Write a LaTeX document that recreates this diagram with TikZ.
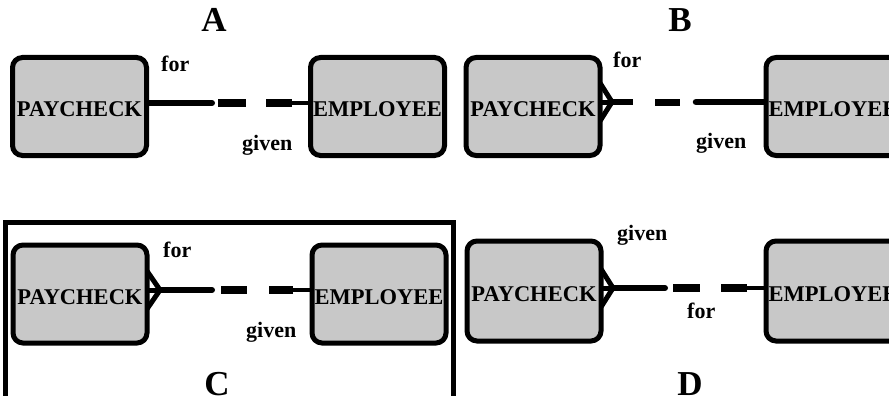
\documentclass[tikz,border=0pt]{standalone}
\usepackage{fontspec}
\setmainfont{Liberation Serif}
\usetikzlibrary{backgrounds}
\definecolor{entfill}{RGB}{200,200,200}
\begin{document}
\begin{tikzpicture}[x=1pt,y=-1pt,
  entity/.style={draw=black, fill=entfill, line width=5pt, rounded corners=10pt,
    minimum width=134pt, minimum height=98pt, inner sep=0pt, outer sep=0pt,
    font=\fontsize{22.5}{22.5}\selectfont\bfseries, text height=20pt, text depth=0pt},
  rolelabel/.style={inner sep=0pt, anchor=base west, font=\fontsize{22}{22}\selectfont\bfseries},
  panellabel/.style={inner sep=0pt, anchor=base, font=\fontsize{35}{35}\selectfont\bfseries},
  mandseg/.style={line width=6pt, line cap=round},
  mandbutt/.style={line width=6.5pt},
  optseg/.style={line width=8pt},
  tailseg/.style={line width=4.5pt},
  crowfoot/.style={line width=5pt, line join=miter}]
\useasboundingbox (0,0) rectangle (889,396);
\clip (0,0) rectangle (889,396);

% ---------------- A ----------------
\node[entity] (pa) at (79.5,106.5) {PAYCHECK};
\node[entity] (ea) at (377.5,106.5) {EMPLOYEE};
\node[rolelabel] (fa) at (161,71) {for};
\node[rolelabel] (ga) at (242,150) {given};
\node[panellabel] (la) at (214,32) {A};

% ---------------- B ----------------
\node[entity] (pb) at (533,106.5) {PAYCHECK};
\node[entity] (eb) at (833,106.5) {EMPLOYEE};
\node[rolelabel] (fb) at (613,68) {for};
\node[rolelabel] (gb) at (696,148) {given};
\node[panellabel] (lb) at (680,32) {B};

% ---------------- C ----------------
\draw[line width=5pt] (5.5,222) rectangle (453.5,410);
\node[entity] (pc) at (80,294) {PAYCHECK};
\node[entity] (ec) at (379,294) {EMPLOYEE};
\node[rolelabel] (fc) at (163,257) {for};
\node[rolelabel] (gc) at (246,337) {given};
\node[panellabel] (lc) at (217,395) {C};

% ---------------- D ----------------
\node[entity, minimum height=100pt] (pd) at (534,291) {PAYCHECK};
\node[entity, minimum height=100pt] (ed) at (833,291) {EMPLOYEE};
\node[rolelabel] (gd) at (617,240) {given};
\node[rolelabel] (fd) at (687,318) {for};
\node[panellabel] (ld) at (690,395) {D};

\begin{scope}[on background layer]
  % A: plain end at PAYCHECK, solid half then dashed half
  \draw[mandseg] ([yshift=3.5pt]pa.east) -- ++(65.5,0);
  \draw[optseg] ([xshift=71.5pt,yshift=3.5pt]pa.east) -- ++(28,0);
  \draw[optseg] ([xshift=-18.5pt,yshift=3.5pt]ea.west) -- ++(-26,0);
  \draw[tailseg] ([xshift=-18.5pt,yshift=3.5pt]ea.west) -- ([yshift=3.5pt]ea.west);

  % B: crow's foot at PAYCHECK, dashed half then solid half
  \coordinate (kb) at ([xshift=12pt,yshift=4.5pt]pb.east);
  \draw[crowfoot] ([yshift=23.5pt]pb.east) -- (kb) -- ([yshift=-14.5pt]pb.east);
  \draw[crowfoot] ([yshift=4.5pt]pb.east) -- (kb);
  \draw[mandbutt] (kb) -- ++(21,0);
  \draw[optseg, line width=7pt] ([xshift=55pt,yshift=4.5pt]pb.east) -- ++(25,0);
  \draw[mandseg, line width=6.5pt] ([xshift=-70pt,yshift=4.5pt]eb.west) -- ([yshift=4.5pt]eb.west);

  % C: crow's foot at PAYCHECK, solid half then dashed half
  \coordinate (kc) at ([xshift=13pt,yshift=4pt]pc.east);
  \draw[crowfoot] ([yshift=23pt]pc.east) -- (kc) -- ([yshift=-15pt]pc.east);
  \draw[crowfoot] ([yshift=4pt]pc.east) -- (kc);
  \draw[mandseg] (kc) -- ++(52,0);
  \draw[optseg] ([xshift=74pt,yshift=4pt]pc.east) -- ++(26,0);
  \draw[optseg] ([xshift=-19pt,yshift=4pt]ec.west) -- ++(-24,0);
  \draw[tailseg] ([xshift=-19pt,yshift=4pt]ec.west) -- ([yshift=4pt]ec.west);

  % D: crow's foot at PAYCHECK, solid half then dashed half
  \coordinate (kd) at ([xshift=12pt,yshift=3pt]pd.east);
  \draw[crowfoot] ([yshift=22pt]pd.east) -- (kd) -- ([yshift=-16pt]pd.east);
  \draw[crowfoot] ([yshift=3pt]pd.east) -- (kd);
  \draw[mandseg] (kd) -- ++(52,0);
  \draw[optseg] ([xshift=72pt,yshift=3pt]pd.east) -- ++(27,0);
  \draw[optseg] ([xshift=-19pt,yshift=3pt]ed.west) -- ++(-26,0);
  \draw[tailseg] ([xshift=-19pt,yshift=3pt]ed.west) -- ([yshift=3pt]ed.west);
\end{scope}
\end{tikzpicture}
\end{document}
